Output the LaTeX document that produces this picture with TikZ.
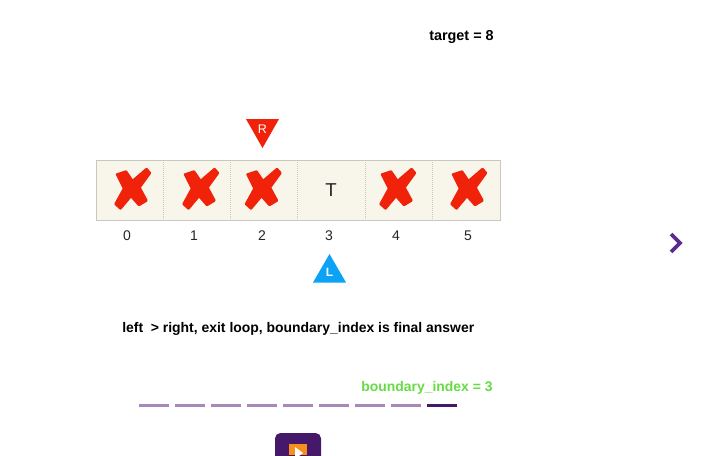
\documentclass[tikz,border=0pt]{standalone}
\usepackage{fontspec}
\setmainfont{Liberation Sans}
\definecolor{cellfill}{HTML}{F8F6EA}
\definecolor{cellline}{HTML}{C8C8C0}
\definecolor{crossred}{HTML}{F0220A}
\definecolor{lblue}{HTML}{0BA3F5}
\definecolor{greenlabel}{HTML}{66DC44}
\definecolor{dashlight}{HTML}{A589B8}
\definecolor{dashdark}{HTML}{45186A}
\definecolor{chevron}{HTML}{5A2D8C}
\definecolor{playorange}{HTML}{F78F1E}
\tikzset{
  boldlabel/.style={inner sep=0pt,font=\fontsize{10.45pt}{13pt}\selectfont\bfseries,anchor=west},
  indexlabel/.style={inner sep=0pt,font=\fontsize{10.5pt}{12pt}\selectfont,text=black!85},
  pagedash/.style={line width=2.6pt,draw=dashlight},
  cellgrid/.style={draw=cellline,densely dotted,line width=0.5pt},
  pointerlabel/.style={inner sep=0pt,text=white,font=\fontsize{9.4pt}{10pt}\selectfont}
}
\newcommand{\redcross}[2]{%
  \fill[crossred,draw=crossred,line width=1.8pt,line join=round,shift={(#1,#2)}] (-15,-13.5) -- (-6,-16.5) -- (0.5,-7) -- (14.5,-19) -- (18,-15)
    -- (7.5,-0.5) -- (14.5,12.5) -- (7,17) -- (-1,8) -- (-11.5,20.5) -- (-16.5,16) -- (-8,0.5) -- cycle;
}
\begin{document}
\begin{tikzpicture}[x=0.75pt,y=-0.75pt]
\useasboundingbox (0,0) rectangle (709,455);
\fill[white] (0,0) rectangle (709,455);
\node[boldlabel,font=\fontsize{10.8pt}{13pt}\selectfont\bfseries] (target) at (429,36.5) {target = 8};
% array
\fill[cellfill] (96,160) rectangle (500,220);
\foreach \x in {163,230.5,297.5,365,432.5}{\draw[cellgrid] (\x,160) -- (\x,220);}
\draw[cellline,line width=0.7pt] (96,160) rectangle (500,220);
\redcross{132}{188}
\redcross{200}{188}
\redcross{262.5}{188}
\redcross{397}{188}
\redcross{468}{188}
\node[inner sep=0pt,font=\fontsize{14pt}{15pt}\selectfont,text=black!85] (tee) at (331,190) {T};
\node[indexlabel] (i0) at (127,236) {0};
\node[indexlabel] (i1) at (194,236) {1};
\node[indexlabel] (i2) at (262,236) {2};
\node[indexlabel] (i3) at (329,236) {3};
\node[indexlabel] (i4) at (396,236) {4};
\node[indexlabel] (i5) at (468,236) {5};
% pointers
\fill[crossred] (246,119) -- (279,119) -- (262.5,148) -- cycle;
\node[pointerlabel] (rlabel) at (262.5,129.5) {R};
\fill[lblue] (329.5,254) -- (346,282.5) -- (313,282.5) -- cycle;
\node[pointerlabel,font=\fontsize{9pt}{10pt}\selectfont\bfseries] (llabel) at (329.5,272.5) {L};
% text
\node[boldlabel] (msg) at (122,328.5) {left\ \ > right, exit loop, boundary\_index is final answer};
\node[boldlabel,text=greenlabel] (bindex) at (361,387.5) {boundary\_index = 3};
% progress dashes
\foreach \x in {139,175,211,247,283,319,355,391}{\draw[pagedash] (\x,405.5) -- (\x+30,405.5);}
\draw[pagedash,draw=dashdark] (427,405.5) -- (457,405.5);
% next chevron
\draw[chevron,line width=2.7pt,miter limit=10] (671,234) -- (680,243) -- (671,252);
% play button
\fill[dashdark,rounded corners=4pt] (275,433) rectangle (321,470);
\fill[playorange] (289,444) rectangle (307,455);
\fill[white] (295,447) -- (303,453) -- (295,459) -- cycle;
\end{tikzpicture}
\end{document}
